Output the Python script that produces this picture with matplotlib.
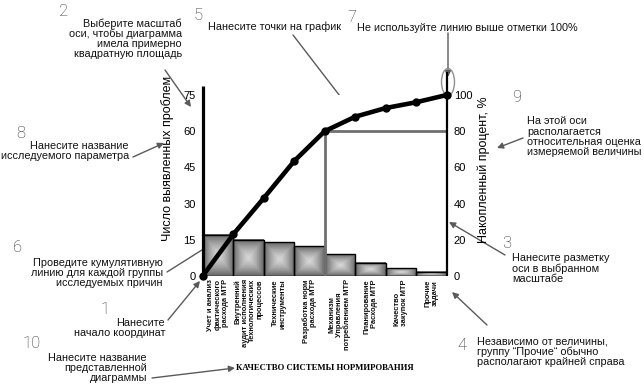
import numpy as np
import matplotlib
matplotlib.use("Agg")
import matplotlib.pyplot as plt
from matplotlib.colors import LinearSegmentedColormap
from matplotlib.patches import Ellipse, FancyArrowPatch

plt.rcParams['font.family'] = ['Liberation Sans', 'DejaVu Sans']

# ---------------- data ----------------
categories = [
    "Учет и анализ\nфактического\nрасхода МТР",
    "Внутренний\nаудит исполнения\nТехнологических\nпроцессов",
    "Технические\nинструменты",
    "Разработка норм\nрасхода МТР",
    "Механизм\nУправления\nпотреблением МТР",
    "Планирование\nРасхода МТР",
    "Качество\nзакупок МТР",
    "Прочие\nзадачи",
]
problem_counts = [17, 15, 14, 12.4, 9.1, 5.4, 3.2, 1.7]
cumulative_pct = [0, 23, 43, 63.5, 80, 88, 92.8, 96, 100]
pareto_level = 80
left_ticks = [0, 15, 30, 45, 60, 75]
right_ticks = [0, 20, 40, 60, 80, 100]
left_label = "Число выявленных проблем"
right_label = "Накопленный процент, %"
chart_title = "КАЧЕСТВО СИСТЕМЫ НОРМИРОВАНИЯ"

W, H = 644, 388
fig = plt.figure(figsize=(W / 100, H / 100), dpi=100)

def P(x, y):
    return (x / W, 1 - y / H)

ax = fig.add_axes([202.7 / W, 112 / H, 244 / W, 181 / H])
ax2 = ax.twinx()
ax.set_zorder(1)
ax2.set_zorder(2)
ax2.patch.set_visible(False)

n = len(problem_counts)

# gradient "pillow" fill for bars
g = np.linspace(-1, 1, 80)
U, V = np.meshgrid(g, g)
D = np.maximum(np.abs(U), np.abs(V))
cmap = LinearSegmentedColormap.from_list("pillow", ["#d8d8d8", "#a4a4a4", "#666666"])
for i, v in enumerate(problem_counts):
    ax.imshow(D ** 1.2, cmap=cmap, extent=[i, i + 1, 0, v], aspect='auto',
              interpolation='bilinear', zorder=1, vmin=0, vmax=1)
ax.bar(np.arange(n) + 0.5, problem_counts, width=1.0, fill=False,
       edgecolor='black', linewidth=1.0, zorder=2)
ax.set_xlim(0, n)
ax.set_ylim(0, left_ticks[-1])
ax2.set_ylim(0, right_ticks[-1])

# axis lines
ax.plot([0, 0], [0, 78.7], color='black', lw=2.3, clip_on=False,
        solid_capstyle='butt', zorder=5)
ax2.plot([n, n], [0, 112.5], color='black', lw=1.6, clip_on=False,
         solid_capstyle='butt', zorder=5)

# pareto 80% line
k = next(i for i, c in enumerate(cumulative_pct) if c >= pareto_level)
ax2.plot([k, k, n], [0, pareto_level, pareto_level], color='#707070', lw=2.0,
         solid_joinstyle='miter', zorder=3)

# cumulative line
ax2.plot(np.arange(n + 1), cumulative_pct, color='black', lw=3.3,
         marker='o', markersize=5, zorder=4, clip_on=False)

for a in (ax, ax2):
    for s in a.spines.values():
        s.set_visible(False)
ax.set_xticks([])
ax.set_yticks(left_ticks)
ax.tick_params(axis='y', length=0, pad=5, labelsize=8)
ax2.set_yticks(right_ticks)
ax2.tick_params(axis='y', length=0, pad=5, labelsize=8)

# category labels
aligns = ['right', 'right', 'right', 'right', 'center', 'right', 'left', 'center']
for i, lab in enumerate(categories):
    ax.text(i + 0.5, -1.3, lab, rotation=90, ha='center', va='top',
            multialignment=aligns[i], fontsize=5.4, fontweight='bold',
            linespacing=1.05, color='#111111')

# axis titles and chart title
fig.text(*P(168, 158), left_label, rotation=90, ha='center', va='center', fontsize=9)
fig.text(*P(484, 170), right_label, rotation=90, ha='center', va='center', fontsize=9)
fig.text(*P(325, 368), chart_title, ha='center', va='center', fontsize=6.3,
         family='Liberation Serif', fontweight='bold')

# annotations
num_kw = dict(ha='center', va='center', fontsize=12, color='#333333',
              family=['Roboto', 'DejaVu Sans'], fontweight='light')
txt_kw = dict(va='center', fontsize=7.8, color='#111111', linespacing=1.0)

notes = [
    ("2", (64, 11), "Выберите масштаб\nоси, чтобы диаграмма\nимела примерно\nквадратную площадь",
     (182, 39), 'right', (165, 70), (191, 107)),
    ("5", (198, 16), "Нанесите точки на график", (208, 27), 'left', (293, 35), (353, 113)),
    ("7", (352, 17), "Не используйте линию выше отметки 100%", (357, 28), 'left',
     (448, 33), (448, 77)),
    ("8", (21, 134), "Нанесите название\nисследуемого параметра", (129, 151.5), 'right',
     (133, 157), (164, 143)),
    ("9", (517, 97), "На этой оси\nрасполагается\nотносительная оценка\nизмеряемой величины",
     (527, 136.5), 'left', (523, 138), (497, 148)),
    ("6", (18, 248), "Проведите кумулятивную\nлинию для каждой группы\nисследуемых причин",
     (163, 272.5), 'right', (167, 272), (240, 226)),
    ("1", (105, 309), "Нанесите\nначало координат", (165, 328), 'right',
     (168, 320), (200, 281)),
    ("10", (32, 344), "Нанесите название\nпредставленной\nдиаграммы", (147, 368), 'right',
     (152, 378), (235, 368)),
    ("3", (507, 243), "Нанесите разметку\nоси в выбранном\nмасштабе", (512, 268.5), 'left',
     (505, 255), (449, 222)),
    ("4", (462, 346), "Независимо от величины,\nгруппу “Прочие“ обычно\nрасполагают крайней справа",
     (477, 351.5), 'left', (487, 325), (452, 292)),
]
for num, npos, txt, tpos, ha, a0, a1 in notes:
    fig.text(*P(*npos), num, **num_kw)
    fig.text(*P(*tpos), txt, ha=ha, multialignment=ha, **txt_kw)
    fig.add_artist(FancyArrowPatch(
        P(*a0), P(*a1), transform=fig.transFigure, arrowstyle='-|>',
        mutation_scale=9, color='#5a5a5a', lw=1.0, shrinkA=0, shrinkB=0))

fig.add_artist(Ellipse(P(448, 82), 13 / W, 27 / H, transform=fig.transFigure,
                       fill=False, edgecolor='#909090', lw=1.0))

fig.savefig("out.png", dpi=100)
